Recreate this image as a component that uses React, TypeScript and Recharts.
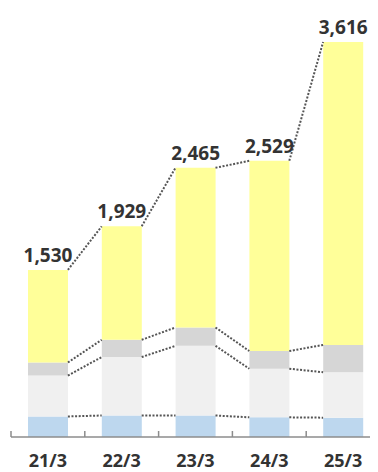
import React from 'react';
import { ComposedChart, Bar, Line, XAxis, YAxis, LabelList } from 'recharts';

// fiscal years (March year-end)
const categories = ['21/3', '22/3', '23/3', '24/3', '25/3'];
const totals = [1530, 1929, 2465, 2529, 3616];

// stacked segments, bottom to top
const blueSeg = [188, 197, 197, 180, 177];
const lightGraySeg = [375, 535, 638, 445, 416];
const graySeg = [119, 158, 168, 162, 250];
const yellowSeg = [848, 1039, 1462, 1742, 2773];

const COLORS = {
  blue: '#bdd7ee',
  lightGray: '#f0f0f0',
  gray: '#d6d6d6',
  yellow: '#ffff99',
  dots: '#555555',
  axis: '#8c8c8c',
  text: '#333333',
};

const CHART_W = 372;
const CHART_H = 464;
const MARGIN = { top: 14, right: 0, left: 3, bottom: 0 };
const BAR_SIZE = 40;
const STEP = (CHART_W - MARGIN.left - MARGIN.right) / categories.length;
const FONT = '"Noto Sans", "Open Sans", sans-serif';

const data = categories.map((name, i) => ({
  name,
  blue: blueSeg[i],
  lightGray: lightGraySeg[i],
  gray: graySeg[i],
  yellow: yellowSeg[i],
  total: totals[i],
  lvlBlue: blueSeg[i],
  lvlLight: blueSeg[i] + lightGraySeg[i],
  lvlGray: blueSeg[i] + lightGraySeg[i] + graySeg[i],
}));

// dotted connector from the right edge of one bar to the left edge of the next
const renderConnector = (props: any) => {
  const { cx, cy, index, points } = props;
  const next = points && points[index + 1];
  if (!next) return <g key={`c-${index}`} />;
  return (
    <line
      key={`c-${index}`}
      x1={cx + BAR_SIZE / 2}
      y1={cy}
      x2={next.x - BAR_SIZE / 2}
      y2={next.y}
      stroke={COLORS.dots}
      strokeWidth={2}
      strokeDasharray="2 1.6"
    />
  );
};

const renderTick = (props: any) => {
  const { x, y, payload, index } = props;
  return (
    <g>
      <line x1={x - STEP / 2} y1={y - 6} x2={x - STEP / 2} y2={y} stroke={COLORS.axis} strokeWidth={1.5} />
      {index === categories.length - 1 && (
        <line x1={x + STEP / 2} y1={y - 6} x2={x + STEP / 2} y2={y} stroke={COLORS.axis} strokeWidth={1.5} />
      )}
      <text
        x={x}
        y={y + 30}
        textAnchor="middle"
        fill={COLORS.text}
        fontSize={18}
        fontWeight={700}
        fontFamily={FONT}
      >
        {payload.value}
      </text>
    </g>
  );
};

const levels = ['total', 'lvlGray', 'lvlLight', 'lvlBlue'];

export default function App() {
  return (
    <div style={{ width: 370, height: CHART_H, overflow: 'hidden' }}>
      <ComposedChart width={CHART_W} height={CHART_H} data={data} margin={MARGIN}>
        <XAxis
          dataKey="name"
          height={35}
          axisLine={{ stroke: COLORS.axis, strokeWidth: 1.5 }}
          tickLine={false}
          tickSize={0}
          tickMargin={0}
          interval={0}
          tick={renderTick}
        />
        <YAxis hide domain={[0, 3800]} />
        <Bar dataKey="blue" stackId="a" fill={COLORS.blue} barSize={BAR_SIZE} isAnimationActive={false} />
        <Bar dataKey="lightGray" stackId="a" fill={COLORS.lightGray} barSize={BAR_SIZE} isAnimationActive={false} />
        <Bar dataKey="gray" stackId="a" fill={COLORS.gray} barSize={BAR_SIZE} isAnimationActive={false} />
        <Bar dataKey="yellow" stackId="a" fill={COLORS.yellow} barSize={BAR_SIZE} isAnimationActive={false}>
          <LabelList
            dataKey="total"
            position="top"
            offset={8}
            formatter={(v: any) => Number(v).toLocaleString('en-US')}
            fill={COLORS.text}
            fontSize={19}
            fontWeight={700}
            fontFamily={FONT}
          />
        </Bar>
        {levels.map((key) => (
          <Line
            key={key}
            dataKey={key}
            stroke="none"
            dot={renderConnector}
            activeDot={false}
            legendType="none"
            isAnimationActive={false}
          />
        ))}
      </ComposedChart>
    </div>
  );
}
